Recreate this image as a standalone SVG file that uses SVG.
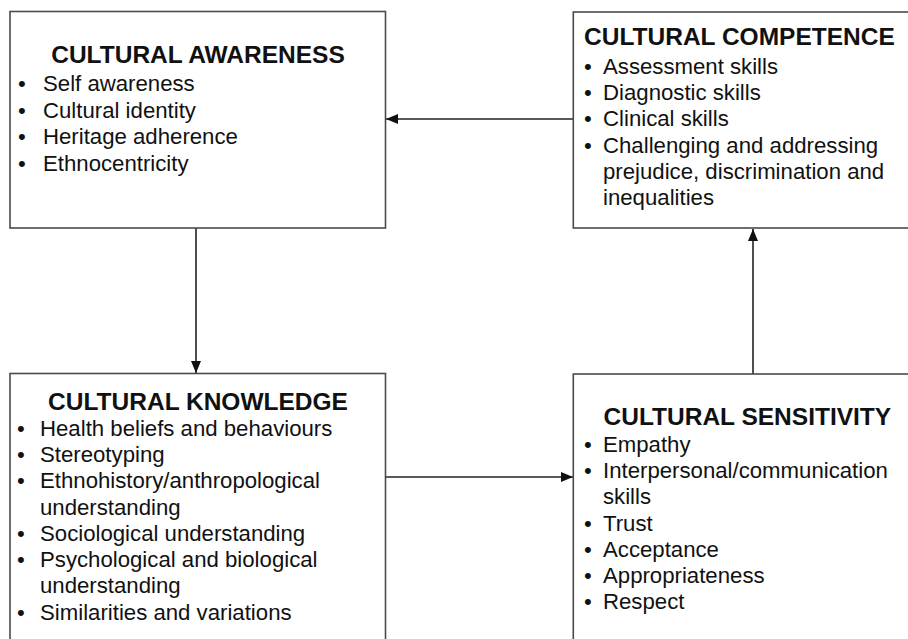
<svg xmlns="http://www.w3.org/2000/svg" width="908" height="639" viewBox="0 0 908 639">
  <style>
    .box { fill: #ffffff; stroke: #4a4a4a; stroke-width: 1.6; }
    .title { font-family: "Liberation Sans", Arial, sans-serif; font-weight: bold; font-size: 24.5px; fill: #111; }
    .item { font-family: "Liberation Sans", Arial, sans-serif; font-size: 22.2px; fill: #111; }
    .link { stroke: #222; stroke-width: 1.6; fill: none; marker-end: url(#arrow); }
  </style>
  <defs>
    <marker id="arrow" viewBox="0 0 12 10" refX="12" refY="5" markerWidth="12" markerHeight="10" markerUnits="userSpaceOnUse" orient="auto">
      <path d="M0,0 L12,5 L0,10 z" fill="#111"/>
    </marker>
  </defs>
  <rect width="908" height="639" fill="#ffffff"/>

  <g id="connectors">
    <line class="link" x1="573" y1="119" x2="386" y2="119"/>
    <line class="link" x1="196" y1="228" x2="196" y2="373"/>
    <line class="link" x1="386" y1="477" x2="573" y2="477"/>
    <line class="link" x1="753" y1="374" x2="753" y2="229"/>
  </g>

  <g id="cultural-awareness">
    <rect class="box" x="10" y="11.5" width="375.5" height="216.5"/>
    <text class="title" x="198" y="63" text-anchor="middle">CULTURAL AWARENESS</text>
    <g class="item">
      <text x="18" y="91">•</text><text x="43" y="91">Self awareness</text>
      <text x="18" y="117.5">•</text><text x="43" y="117.5">Cultural identity</text>
      <text x="18" y="144">•</text><text x="43" y="144">Heritage adherence</text>
      <text x="18" y="170.5">•</text><text x="43" y="170.5">Ethnocentricity</text>
    </g>
  </g>

  <g id="cultural-competence">
    <rect class="box" x="573.3" y="12" width="345" height="216"/>
    <text class="title" x="584" y="45">CULTURAL COMPETENCE</text>
    <g class="item">
      <text x="584" y="73.5">•</text><text x="603" y="73.5">Assessment skills</text>
      <text x="584" y="100">•</text><text x="603" y="100">Diagnostic skills</text>
      <text x="584" y="126.3">•</text><text x="603" y="126.3">Clinical skills</text>
      <text x="584" y="152.6">•</text><text x="603" y="152.6">Challenging and addressing</text>
      <text x="603" y="178.9">prejudice, discrimination and</text>
      <text x="603" y="205.2">inequalities</text>
    </g>
  </g>

  <g id="cultural-knowledge">
    <rect class="box" x="10" y="373.5" width="375.5" height="280"/>
    <text class="title" x="198" y="410" text-anchor="middle">CULTURAL KNOWLEDGE</text>
    <g class="item">
      <text x="17" y="436">•</text><text x="40" y="436">Health beliefs and behaviours</text>
      <text x="17" y="462">•</text><text x="40" y="462">Stereotyping</text>
      <text x="17" y="488.3">•</text><text x="40" y="488.3">Ethnohistory/anthropological</text>
      <text x="40" y="514.8">understanding</text>
      <text x="17" y="541.3">•</text><text x="40" y="541.3">Sociological understanding</text>
      <text x="17" y="567">•</text><text x="40" y="567">Psychological and biological</text>
      <text x="40" y="593.3">understanding</text>
      <text x="17" y="619.5">•</text><text x="40" y="619.5">Similarities and variations</text>
    </g>
  </g>

  <g id="cultural-sensitivity">
    <rect class="box" x="573.3" y="374" width="345" height="280"/>
    <text class="title" x="603.5" y="425">CULTURAL SENSITIVITY</text>
    <g class="item">
      <text x="584" y="451.7">•</text><text x="603" y="451.7">Empathy</text>
      <text x="584" y="478.2">•</text><text x="603" y="478.2">Interpersonal/communication</text>
      <text x="603" y="504.4">skills</text>
      <text x="584" y="530.7">•</text><text x="603" y="530.7">Trust</text>
      <text x="584" y="556.9">•</text><text x="603" y="556.9">Acceptance</text>
      <text x="584" y="583">•</text><text x="603" y="583">Appropriateness</text>
      <text x="584" y="608.8">•</text><text x="603" y="608.8">Respect</text>
    </g>
  </g>
</svg>
